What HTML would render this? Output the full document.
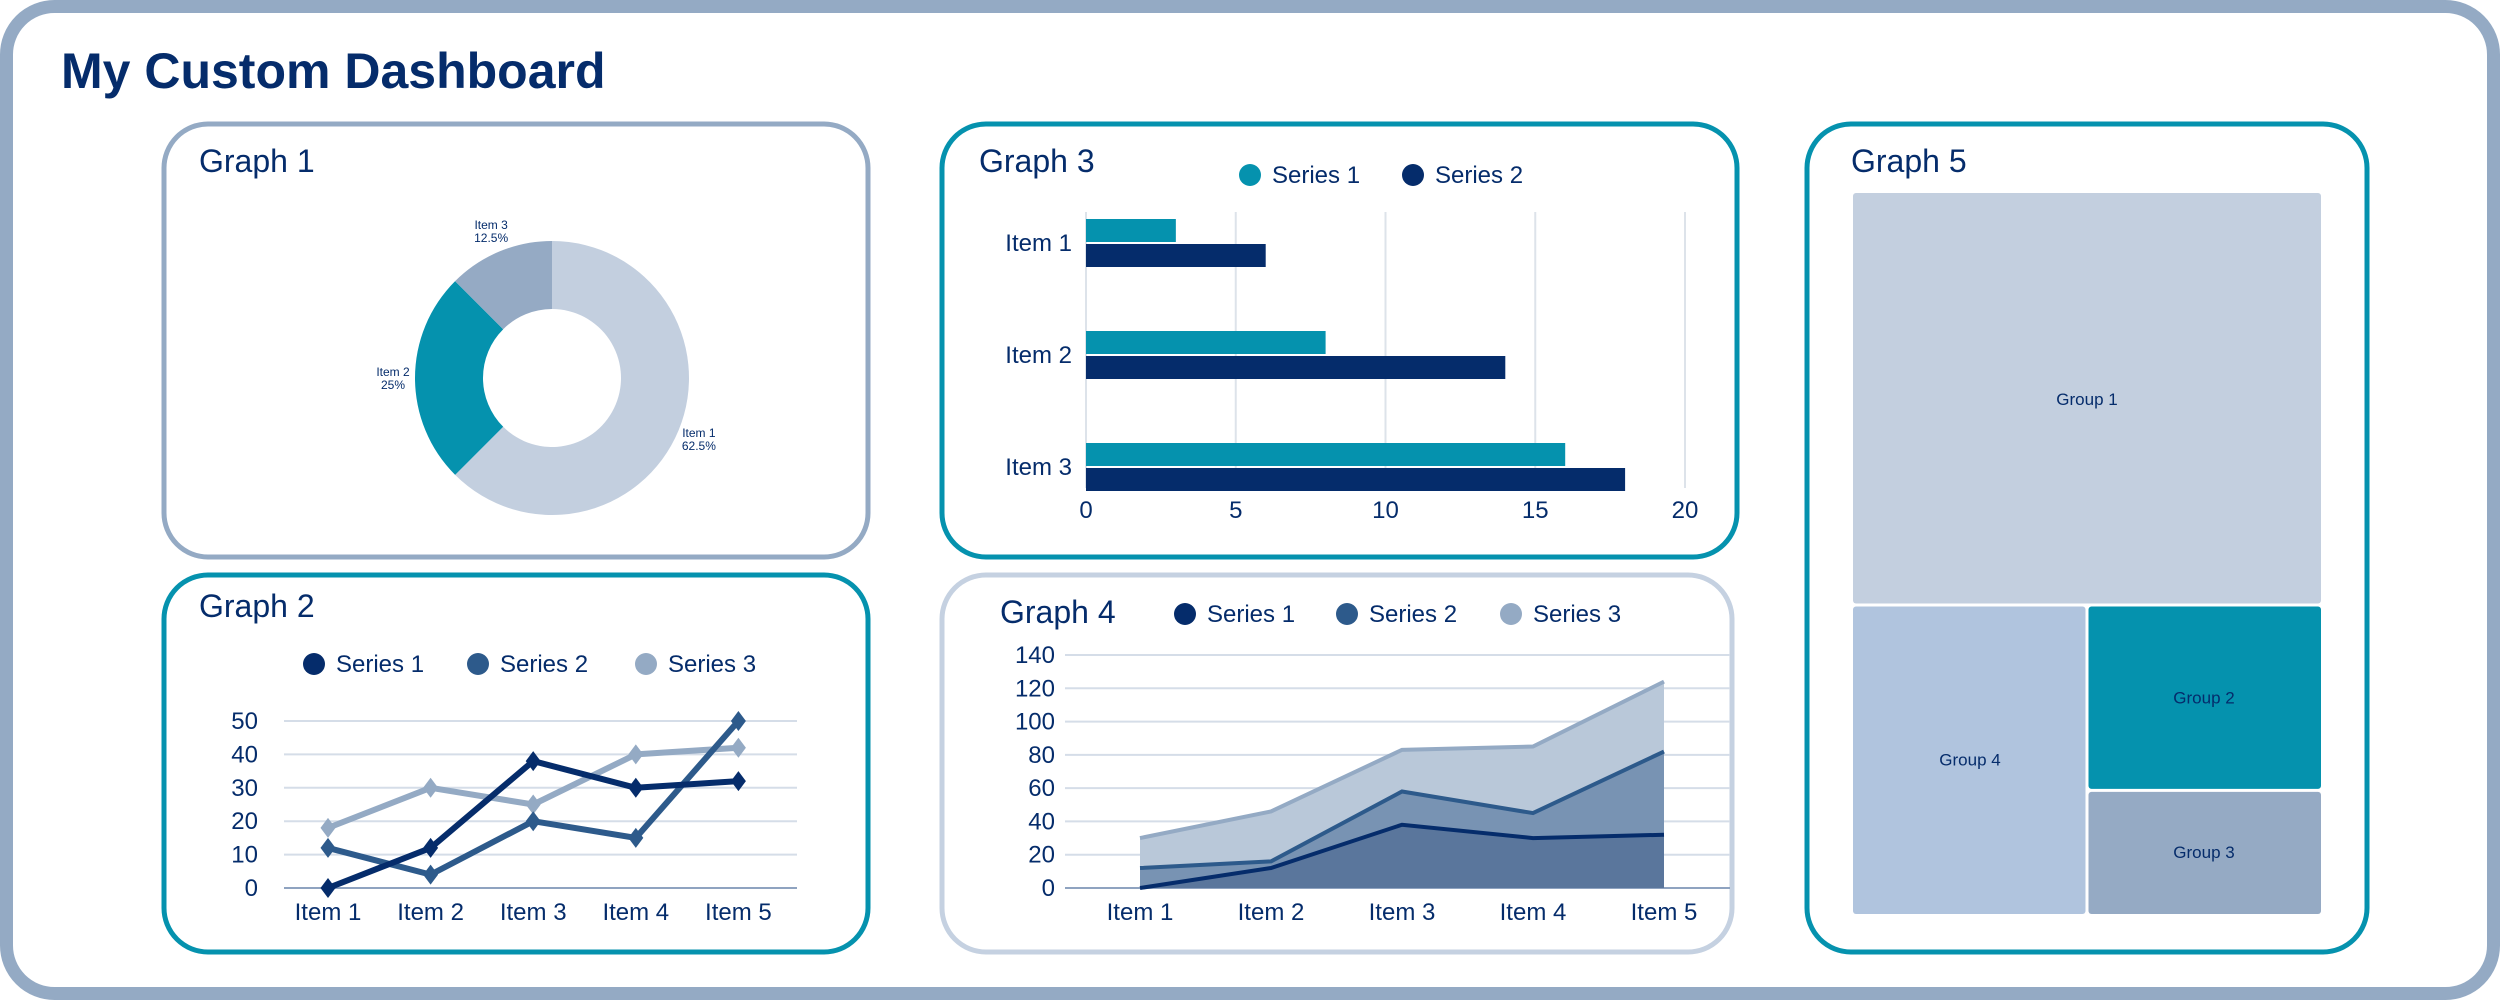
<!DOCTYPE html>
<html><head><meta charset="utf-8"><style>
html,body{margin:0;padding:0;background:#fff;}
svg{display:block;font-family:"Liberation Sans",Arial,sans-serif;}
</style></head><body>
<svg id="s" width="2500" height="1000" viewBox="0 0 2500 1000" xmlns="http://www.w3.org/2000/svg">
<rect x="6.5" y="6.5" width="2487" height="987" rx="48" fill="#fff" stroke="#94aac4" stroke-width="13"/>
<text x="61" y="88" font-size="50" font-weight="bold" fill="#052c6b">My Custom Dashboard</text>
<rect x="164" y="124" width="704" height="433" rx="44" fill="#fff" stroke="#94aac4" stroke-width="5"/>
<rect x="164" y="575" width="704" height="377" rx="44" fill="#fff" stroke="#0592ae" stroke-width="5"/>
<rect x="942" y="124" width="795" height="433" rx="44" fill="#fff" stroke="#0592ae" stroke-width="5"/>
<rect x="942" y="575" width="790" height="377" rx="44" fill="#fff" stroke="#c5d1e1" stroke-width="5"/>
<rect x="1807" y="124" width="560" height="828" rx="44" fill="#fff" stroke="#0592ae" stroke-width="5"/>
<text x="199" y="172" font-size="32" fill="#052c6b">Graph 1</text>
<text x="199" y="617" font-size="32" fill="#052c6b">Graph 2</text>
<text x="979" y="172" font-size="32" fill="#052c6b">Graph 3</text>
<text x="1000" y="623" font-size="32" fill="#052c6b">Graph 4</text>
<text x="1851" y="172" font-size="32" fill="#052c6b">Graph 5</text>
<g id="g1"></g><g id="g2"></g><g id="g3"></g><g id="g4"></g><g id="g5"></g>
</svg>
<script>
// Graph 1 donut
const pieLabels = ["Item 1","Item 2","Item 3"];
const pieValues = [62.5,25,12.5];
// Graph 2 / 4 lines
const lineCats = ["Item 1","Item 2","Item 3","Item 4","Item 5"];
const series1 = [0,12,38,30,32];
const series2 = [12,4,20,15,50];
const series3 = [18,30,25,40,42];
const lineTicks = [0,10,20,30,40,50];
const areaTicks = [0,20,40,60,80,100,120,140];
// Graph 3 bars
const barCats = ["Item 1","Item 2","Item 3"];
const barS1 = [3,8,16];
const barS2 = [6,14,18];
const barTicks = [0,5,10,15,20];
// Graph 5 treemap
const treeLabels = ["Group 1","Group 2","Group 3","Group 4"];
const treeValues = [40,9,6,15];

const NS="http://www.w3.org/2000/svg";
function mk(parent,tag,attrs,text){const e=document.createElementNS(NS,tag);for(const k in attrs)e.setAttribute(k,attrs[k]);if(text!==undefined)e.textContent=text;parent.appendChild(e);return e;}
const TXT="#052c6b";

// ---- Graph 1
(function(){
 const g=document.getElementById('g1');
 const cx=552,cy=378,R=137,r=69;
 const cols=["#c3cfdf","#0592ae","#95aac4"];
 const tot=pieValues.reduce((a,b)=>a+b,0);
 let a0=0;
 pieValues.forEach((v,i)=>{
  const a1=a0+v/tot*Math.PI*2;
  const p=(ang,rad)=>[cx+rad*Math.sin(ang),cy-rad*Math.cos(ang)];
  const large=(a1-a0)>Math.PI?1:0;
  const [x0,y0]=p(a0,R),[x1,y1]=p(a1,R),[x2,y2]=p(a1,r),[x3,y3]=p(a0,r);
  const s=mk(g,'path',{d:`M${x0},${y0}A${R},${R} 0 ${large} 1 ${x1},${y1}L${x2},${y2}A${r},${r} 0 ${large} 0 ${x3},${y3}Z`,fill:cols[i]});
  
  
  const mid=(a0+a1)/2;
  const [lx,ly]=p(mid,R+22);
  const t=mk(g,'text',{x:lx,y:ly-2,'font-size':12,fill:TXT,'text-anchor':'middle'});
  
  
  mk(t,'tspan',{x:lx,dy:0},pieLabels[i]);
  mk(t,'tspan',{x:lx,dy:13},v+'%');
  a0=a1;
 });
})();

// ---- legends helper
function legend(g,items,cols,y,xs,name){
 items.forEach((s,i)=>{
  const c=mk(g,'circle',{cx:xs[i],cy:y,r:11,fill:cols[i]});
  
  
  const t=mk(g,'text',{x:xs[i]+22,y:y+8,'font-size':24,fill:TXT},s);
  
  
 });
}
const lineCols=["#052c6b","#2d5a8b","#94aac4"];

// ---- Graph 2
(function(){
 const g=document.getElementById('g2');
 legend(g,["Series 1","Series 2","Series 3"],lineCols,664,[314,478,646],'graph2');
 const x0=284,x1=797,yb=888,perU=(888-721)/50;
 const X=i=>328+i*102.6, Y=v=>yb-v*perU;
 lineTicks.forEach(v=>{
  const l=mk(g,'line',{x1:x0,x2:x1,y1:Y(v),y2:Y(v),stroke:v===0?'#8fa3c0':'#d5dde8','stroke-width':2});
  
  
  const t=mk(g,'text',{x:258,y:Y(v)+8,'font-size':24,fill:TXT,'text-anchor':'end'},v);
  
  
 });
 lineCats.forEach((c,i)=>{
  const t=mk(g,'text',{x:X(i),y:920,'font-size':24,fill:TXT,'text-anchor':'middle'},c);
  
  
 });
 [series3,series2,series1].forEach((sv,k)=>{
  const col=lineCols[2-k];
  const pl=mk(g,'polyline',{points:sv.map((v,i)=>X(i)+','+Y(v)).join(' '),fill:'none',stroke:col,'stroke-width':6,'stroke-linejoin':'round'});
  
  
  sv.forEach((v,i)=>{
   const x=X(i),y=Y(v),d=10;
   const m=mk(g,'path',{d:`M${x},${y-d}L${x+d*0.75},${y}L${x},${y+d}L${x-d*0.75},${y}Z`,fill:col});
   
   
  });
 });
})();

// ---- Graph 3
(function(){
 const g=document.getElementById('g3');
 legend(g,["Series 1","Series 2"],["#0592ae","#052c6b"],175,[1250,1413],'graph3');
 const X=v=>1086+v*29.95;
 barTicks.forEach(v=>{
  const l=mk(g,'line',{x1:X(v),x2:X(v),y1:212,y2:488,stroke:'#dde3ea','stroke-width':2});
  
  
  const t=mk(g,'text',{x:X(v),y:518,'font-size':24,fill:TXT,'text-anchor':'middle'},v);
  
  
 });
 barCats.forEach((c,i)=>{
  const cy=243+i*112;
  const t=mk(g,'text',{x:1072,y:cy+8,'font-size':24,fill:TXT,'text-anchor':'end'},c);
  
  
  const b1=mk(g,'rect',{x:X(0),y:cy-24,width:X(barS1[i])-X(0),height:23,fill:'#0592ae'});
  
  
  const b2=mk(g,'rect',{x:X(0),y:cy+1,width:X(barS2[i])-X(0),height:23,fill:'#052c6b'});
  
  
 });
})();

// ---- Graph 4
(function(){
 const g=document.getElementById('g4');
 legend(g,["Series 1","Series 2","Series 3"],lineCols,614,[1185,1347,1511],'graph4');
 const yb=888,perU=(888-655)/140;
 const X=i=>1140+i*131, Y=v=>yb-v*perU;
 areaTicks.forEach(v=>{
  const l=mk(g,'line',{x1:1065,x2:1730,y1:Y(v),y2:Y(v),stroke:v===0?'#8fa3c0':'#d5dde8','stroke-width':2});
  
  
  const t=mk(g,'text',{x:1055,y:Y(v)+8,'font-size':24,fill:TXT,'text-anchor':'end'},v);
  
  
 });
 lineCats.forEach((c,i)=>{
  const t=mk(g,'text',{x:X(i),y:920,'font-size':24,fill:TXT,'text-anchor':'middle'},c);
  
  
 });
 const c1=series1.slice(), c2=series1.map((v,i)=>v+series2[i]), c3=c2.map((v,i)=>v+series3[i]);
 const stacks=[[c2,c3],[c1,c2],[null,c1]];
 const fills=["#b9c8d9","#7893b3","#5a769c"], strokes=["#94aac4","#2d5a8b","#052c6b"];
 stacks.forEach(([lo,hi],k)=>{
  const top=hi.map((v,i)=>X(i)+','+Y(v));
  const bot=(lo?lo.map((v,i)=>X(i)+','+Y(v)):hi.map((v,i)=>X(i)+','+Y(0))).reverse();
  const a=mk(g,'polygon',{points:top.concat(bot).join(' '),fill:fills[k]});
  
  
 });
 stacks.forEach(([lo,hi],k)=>{
  const l=mk(g,'polyline',{points:hi.map((v,i)=>X(i)+','+Y(v)).join(' '),fill:'none',stroke:strokes[k],'stroke-width':4});
  
  
 });
})();

// ---- Graph 5 treemap
(function(){
 const g=document.getElementById('g5');
 const L=1853,T=193,W=468,H=721,gap=3;
 const cols=["#c3cfdf","#0592ae","#95aac4","#b0c4de"];
 const tot=treeValues.reduce((a,b)=>a+b,0);
 const h1=H*treeValues[0]/tot;
 const rest=tot-treeValues[0];
 const w4=W*treeValues[3]/rest;
 const h2=(H-h1)*treeValues[1]/(treeValues[1]+treeValues[2]);
 const rects=[
  [L,T,W,h1],
  [L+w4,T+h1,W-w4,h2],
  [L+w4,T+h1+h2,W-w4,H-h1-h2],
  [L,T+h1,w4,H-h1]
 ];
 rects.forEach(([x,y,w,h],i)=>{
  const r=mk(g,'rect',{x:x+(x>L?gap/2:0),y:y+(y>T?gap/2:0),width:w-(x>L?gap/2:0)-((x+w)<L+W-1?gap/2:0),height:h-(y>T?gap/2:0)-((y+h)<T+H-1?gap/2:0),rx:3,fill:cols[i]});
  
  
  const t=mk(g,'text',{x:x+w/2,y:y+h/2+6,'font-size':17,fill:TXT,'text-anchor':'middle'},treeLabels[i]);
  
  
 });
})();
</script>
</body></html>
